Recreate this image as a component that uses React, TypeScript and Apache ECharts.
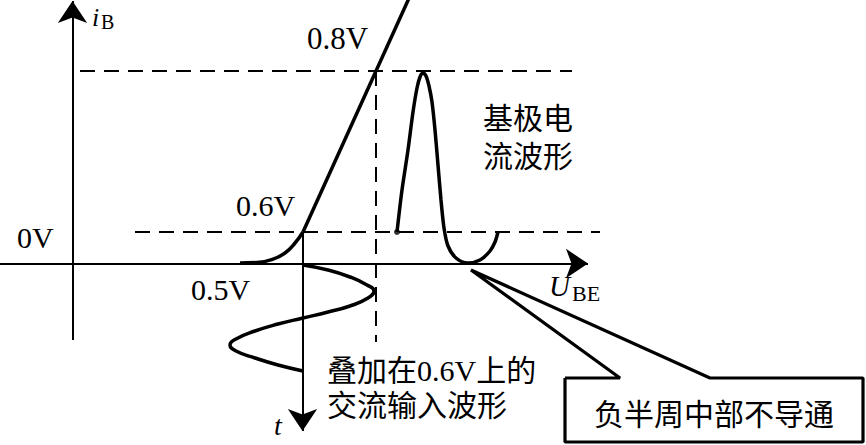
import React, { useEffect, useRef } from 'react';
import * as echarts from 'echarts';

// Diagram coordinates (x → U_BE direction, y downward on the page scale)
const iBAxis = [[72.5, 340], [72.5, 1]];
const uBEAxis = [[0, 263.5], [588, 263.5]];
const tAxis = [[302.5, 232], [302.5, 431]];

const dash08 = [[80, 71], [572, 71]];
const dash06 = [[135, 232], [600, 232]];
const dashVertical = [[376, 71], [376, 342]];

const inputCharKnee = [[240, 263], [257, 262.5], [272, 259.5], [285, 253], [295, 243], [303, 232]];
const inputCharLinear = [[303, 232], [410, -4]];

const inputWave = [
  [303, 265], [328, 270], [350, 277], [367, 285], [374, 291], [368, 298], [350, 306], [328, 312],
  [303, 318], [278, 324], [255, 331], [236, 339], [230, 345], [236, 351], [255, 358], [278, 365], [303, 371],
];

const baseWave = [
  [397, 232], [402, 190], [408, 150], [413, 112], [417, 88], [420, 77], [423, 73], [426, 76],
  [429, 86], [432, 102], [435, 130], [438, 165], [441, 200], [444, 228], [448, 246], [456, 258],
  [468, 263], [480, 260], [490, 251], [495, 242], [498, 232],
];
const baseStart = [[397, 232]];

const callout = [
  [565, 378], [620, 378], [471, 270], [710, 378], [863, 378], [863, 442], [565, 442], [565, 378],
];

const SERIF = '"Liberation Serif", "Noto Sans CJK SC", serif';

export default function App() {
  const ref = useRef<HTMLDivElement>(null);
  useEffect(() => {
    document.body.style.margin = '0';
    const chart = echarts.init(ref.current!, null, { renderer: 'svg' });
    const black = '#000';
    const solid = (data: number[][], width = 3.5, smooth: number | boolean = false) => ({
      type: 'line',
      data,
      smooth,
      showSymbol: false,
      symbol: 'none',
      lineStyle: { color: black, width },
      silent: true,
      z: 3,
    });
    const dashed = (data: number[][]) => ({
      type: 'line',
      data,
      showSymbol: false,
      symbol: 'none',
      lineStyle: { color: black, width: 2, type: [15, 9] },
      silent: true,
      z: 2,
    });
    const arrowAxis = (coords: number[][]) => ({
      type: 'lines',
      coordinateSystem: 'cartesian2d',
      symbol: ['none', 'arrow'],
      symbolSize: [9, 22],
      lineStyle: { color: black, width: 2, opacity: 1 },
      data: [{ coords }],
      silent: true,
      z: 2,
    });
    const txt = (text: string, x: number, y: number, size: number, opts: any = {}) => ({
      type: 'text',
      x,
      y,
      silent: true,
      style: {
        text,
        fontSize: size,
        fontFamily: SERIF,
        fontStyle: opts.italic ? 'italic' : 'normal',
        fill: black,
        align: opts.align || 'left',
        verticalAlign: 'middle',
        lineHeight: opts.lineHeight,
      },
    });
    chart.setOption({
      animation: false,
      backgroundColor: '#fff',
      grid: { left: 0, right: 0, top: 0, bottom: 0 },
      xAxis: { type: 'value', min: 0, max: 866, show: false },
      yAxis: { type: 'value', min: 0, max: 445, inverse: true, show: false },
      series: [
        arrowAxis(iBAxis),
        arrowAxis(uBEAxis),
        arrowAxis(tAxis),
        dashed(dash08),
        dashed(dash06),
        dashed(dashVertical),
        solid(inputCharKnee, 3.5, 0.5),
        solid(inputCharLinear, 3.5),
        solid(inputWave, 3.5, 0.5),
        solid(baseWave, 3.5, 0.3),
        {
          type: 'scatter',
          data: baseStart,
          symbol: 'circle',
          symbolSize: 6,
          itemStyle: { color: black },
          silent: true,
          z: 4,
        },
        solid(callout, 3.2),
      ],
      graphic: [
        txt('i', 92, 17, 26, { italic: true }),
        txt('B', 101, 22, 20),
        txt('0.8V', 307, 38, 31),
        txt('0.6V', 236, 205, 30),
        txt('0V', 17, 237, 30),
        txt('0.5V', 191, 289, 30),
        txt('U', 549, 286, 29, { italic: true }),
        txt('BE', 572, 293, 22),
        txt('t', 274, 425, 28, { italic: true }),
        txt('基极电', 483, 118, 30),
        txt('流波形', 483, 156, 30),
        txt('叠加在0.6V上的', 327, 370, 30),
        txt('交流输入波形', 327, 405, 30),
        txt('负半周中部不导通', 714, 414, 30, { align: 'center' }),
      ],
    });
    return () => chart.dispose();
  }, []);
  return (
    <div
      ref={ref}
      style={{ position: 'fixed', left: 0, top: 0, width: 866, height: 445, background: '#fff' }}
    />
  );
}
